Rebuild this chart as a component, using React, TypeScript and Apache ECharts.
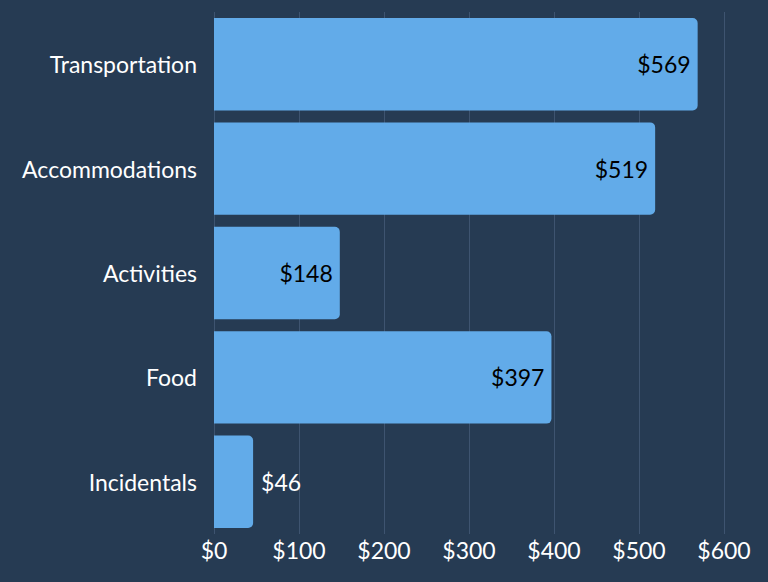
import React, { useEffect, useRef } from "react";
import * as echarts from "echarts";

const categories = ["Transportation", "Accommodations", "Activities", "Food", "Incidentals"];
const values = [569, 519, 148, 397, 46];
const tickValues = [0, 100, 200, 300, 400, 500, 600];

export default function App() {
  const ref = useRef<HTMLDivElement>(null);
  useEffect(() => {
    if (!ref.current) return;
    const chart = echarts.init(ref.current, undefined, { renderer: "svg" });
    const font = "Lato";
    chart.setOption({
      animation: false,
      backgroundColor: "#263B53",
      grid: { left: 214, right: 44, top: 12, bottom: 48, containLabel: false },
      xAxis: {
        type: "value",
        min: tickValues[0],
        max: tickValues[tickValues.length - 1],
        interval: 100,
        axisLine: { show: false },
        axisTick: { show: false },
        splitLine: { show: true, lineStyle: { color: "#3E5470", width: 1 } },
        axisLabel: {
          color: "#FFFFFF",
          fontFamily: font,
          fontSize: 23,
          margin: 4,
          formatter: (v: number) => "$" + v,
        },
      },
      yAxis: {
        type: "category",
        data: categories,
        inverse: true,
        axisLine: { show: false },
        axisTick: { show: false },
        splitLine: { show: false },
        axisLabel: { color: "#FFFFFF", fontFamily: font, fontSize: 23, margin: 17, padding: [0, 0, 4, 0] },
      },
      series: [
        {
          type: "bar",
          barCategoryGap: "11.5%",
          itemStyle: { color: "#62ABE9", borderRadius: [0, 5, 5, 0] },
          data: values.map((v) => {
            const inside = v > 100;
            return {
              value: v,
              label: {
                show: true,
                position: inside ? "insideRight" : "right",
                distance: inside ? 7 : 8,
                color: inside ? "#000000" : "#FFFFFF",
                fontFamily: font,
                fontSize: 23,
                padding: [0, 0, 4, 0],
                formatter: (p: any) => "$" + p.value,
              },
            };
          }),
        },
      ],
    });
    return () => chart.dispose();
  }, []);
  return <div ref={ref} style={{ width: 768, height: 582, position: "absolute", left: 0, top: 0 }} />;
}
